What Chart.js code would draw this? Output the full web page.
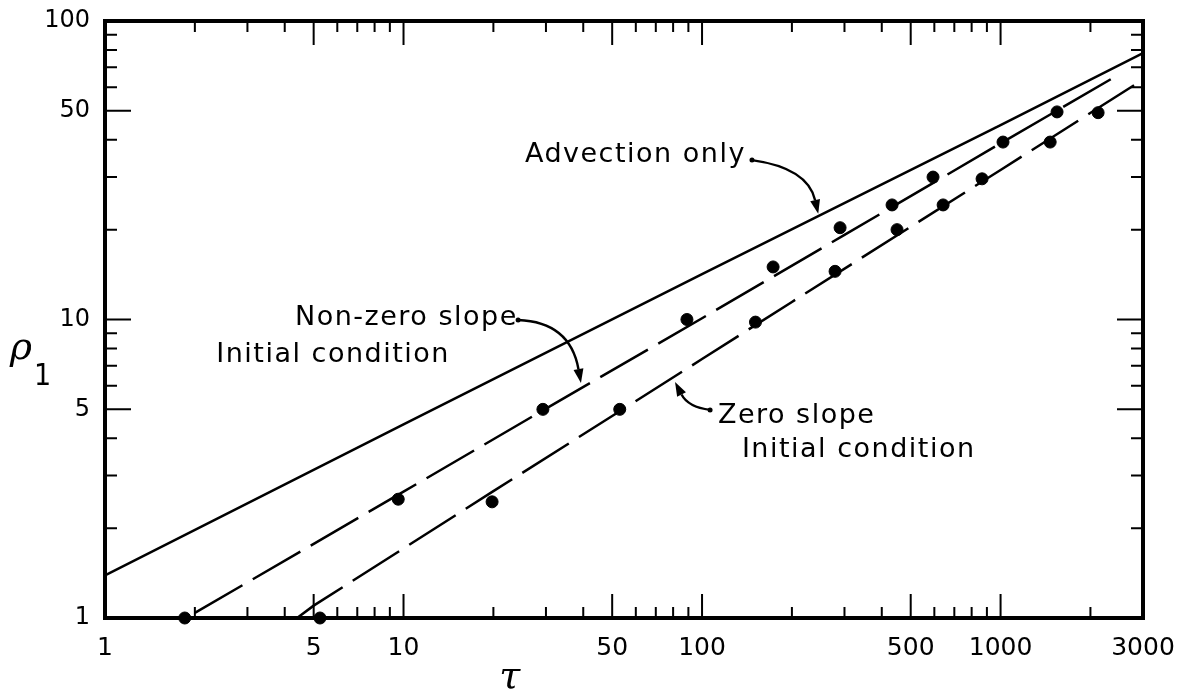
<!DOCTYPE html>
<html>
<head>
<meta charset="utf-8">
<script src="https://cdn.jsdelivr.net/npm/chart.js@4/dist/chart.umd.min.js"></script>
<style>
  html, body { margin: 0; padding: 0; background: #fff; }
</style>
</head>
<body>
<canvas id="chart" width="1188" height="696"></canvas>
<script>
// axis tick labels
var tauTicks = [1, 5, 10, 50, 100, 500, 1000, 3000];
var rhoTicks = [1, 5, 10, 50, 100];

// "Advection only" curve (solid)
var advTau = [1, 10, 100, 1000, 3000];
var advRho = [1.39, 4.45, 14.2, 44.8, 78];

// non-zero slope initial condition: dashed curve + computed points
var nzLineTau = [2.0, 10, 30, 100, 300, 1000, 2500];
var nzLineRho = [1.04, 2.65, 5.03, 10.1, 19.2, 38.9, 66.3];
var nzDotTau = [1.85, 9.6, 29.3, 89, 173, 290, 433, 594, 1019, 1546];
var nzDotRho = [1, 2.5, 5, 10, 15, 20.3, 24.2, 30, 39.3, 49.6];

// zero slope initial condition: dashed curve + computed points
var zLineTau = [4.4, 5, 10, 20, 50, 100, 200, 500, 1000, 2800];
var zLineRho = [1.0, 1.1, 1.71, 2.66, 4.75, 7.37, 11.45, 20.45, 31.7, 60.9];
var zDotTau = [5.25, 19.8, 53, 151, 279, 450, 642, 867, 1466, 2122];
var zDotRho = [1, 2.45, 5, 9.8, 14.5, 20, 24.2, 29.6, 39.3, 49.3];

function pts(xs, ys) {
    return xs.map(function (x, i) { return { x: x, y: ys[i] }; });
}

// labels on the plot, anchored in data units (tau, rho)
var notes = [
    { text: 'Advection only', tau: 25.5, rho: 33.7, align: 'left' },
    { text: 'Non-zero slope', tau: 4.33, rho: 9.58, align: 'left' },
    { text: 'Initial condition', tau: 14.3, rho: 7.2, align: 'right' },
    { text: 'Zero slope', tau: 113, rho: 4.5, align: 'left' },
    { text: 'Initial condition', tau: 136, rho: 3.46, align: 'left' }
];
var arrows = [
    { from: [147, 34.2], via: [226, 32.2], to: [245, 22.6] },
    { from: [24.2, 9.96], via: [36.1, 9.81], to: [39.3, 6.13] },
    { from: [106.4, 4.98], via: [89.8, 5.09], to: [81.2, 6.17] }
];

function decadeSteps(max) {
    var out = [];
    for (var d = 1; d <= max; d *= 10) {
        for (var k = 1; k < 10; k++) {
            if (k * d <= max) out.push(k * d);
        }
    }
    return out;
}

var framePlugin = {
    id: 'frame',
    beforeDatasetsDraw: function (chart) {
        var c = chart.ctx, a = chart.chartArea;
        var sx = chart.scales.x, sy = chart.scales.y;
        c.save();
        c.strokeStyle = '#000';
        c.lineCap = 'butt';
        c.lineWidth = 2;
        decadeSteps(3000).forEach(function (v) {
            var len = tauTicks.indexOf(v) >= 0 ? 24 : 11;
            var x = sx.getPixelForValue(v);
            c.beginPath();
            c.moveTo(x, a.bottom); c.lineTo(x, a.bottom - len);
            c.moveTo(x, a.top); c.lineTo(x, a.top + len);
            c.stroke();
        });
        decadeSteps(100).forEach(function (v) {
            var len = rhoTicks.indexOf(v) >= 0 ? 26 : 12;
            var y = sy.getPixelForValue(v);
            c.beginPath();
            c.moveTo(a.left, y); c.lineTo(a.left + len, y);
            c.moveTo(a.right, y); c.lineTo(a.right - len, y);
            c.stroke();
        });
        c.lineWidth = 4;
        c.strokeRect(a.left, a.top, a.right - a.left, a.bottom - a.top);
        c.restore();
    },
    afterDraw: function (chart) {
        var c = chart.ctx;
        var sx = chart.scales.x, sy = chart.scales.y;
        function P(t, r) { return [sx.getPixelForValue(t), sy.getPixelForValue(r)]; }
        c.save();
        c.fillStyle = '#000';
        c.strokeStyle = '#000';
        c.textBaseline = 'alphabetic';
        c.font = '27px "DejaVu Sans"';
        c.letterSpacing = '1.5px';
        notes.forEach(function (n) {
            var p = P(n.tau, n.rho);
            c.textAlign = n.align;
            c.fillText(n.text, p[0], p[1]);
        });
        c.letterSpacing = '0px';

        c.lineWidth = 2.4;
        arrows.forEach(function (ar) {
            var p0 = P(ar.from[0], ar.from[1]);
            var p1 = P(ar.via[0], ar.via[1]);
            var p2 = P(ar.to[0], ar.to[1]);
            var ang = Math.atan2(p2[1] - p1[1], p2[0] - p1[0]);
            var hl = 14, hw = 5;
            var bx = p2[0] - hl * Math.cos(ang), by = p2[1] - hl * Math.sin(ang);
            c.beginPath();
            c.moveTo(p0[0], p0[1]);
            c.quadraticCurveTo(p1[0], p1[1], bx, by);
            c.stroke();
            c.beginPath();
            c.moveTo(p2[0], p2[1]);
            c.lineTo(bx + hw * Math.sin(ang), by - hw * Math.cos(ang));
            c.lineTo(bx - hw * Math.sin(ang), by + hw * Math.cos(ang));
            c.closePath();
            c.fill();
            c.beginPath();
            c.arc(p0[0], p0[1], 2.5, 0, Math.PI * 2);
            c.fill();
        });

        // axis titles
        var t = P(22.7, 0.583);
        c.textAlign = 'center';
        c.font = 'italic 38px "DejaVu Serif"';
        c.fillText('\u03C4', t[0], t[1]);
        var r = P(0.48, 7.37);
        c.textAlign = 'left';
        c.font = 'italic 38px "DejaVu Serif"';
        c.fillText('\u03C1', r[0], r[1]);
        var s = P(0.578, 6.03);
        c.font = '30px "DejaVu Sans Condensed", "DejaVu Sans"';
        c.fillText('1', s[0], s[1]);
        c.restore();
    }
};

var tickFont = { family: 'DejaVu Sans', size: 25 };

new Chart(document.getElementById('chart'), {
    type: 'scatter',
    data: {
        datasets: [
            {
                label: 'Advection only',
                data: pts(advTau, advRho),
                showLine: true,
                borderColor: '#000',
                borderWidth: 2.5,
                pointRadius: 0
            },
            {
                label: 'Non-zero slope',
                data: pts(nzLineTau, nzLineRho),
                showLine: true,
                borderColor: '#000',
                borderWidth: 2.5,
                borderDash: [55, 12],
                pointRadius: 0
            },
            {
                label: 'Zero slope',
                data: pts(zLineTau, zLineRho),
                showLine: true,
                borderColor: '#000',
                borderWidth: 2.5,
                borderDash: [55, 12],
                pointRadius: 0
            },
            {
                label: 'Non-zero slope points',
                data: pts(nzDotTau, nzDotRho),
                pointRadius: 6,
                pointBackgroundColor: '#000',
                pointBorderColor: '#000',
                clip: false
            },
            {
                label: 'Zero slope points',
                data: pts(zDotTau, zDotRho),
                pointRadius: 6,
                pointBackgroundColor: '#000',
                pointBorderColor: '#000',
                clip: false
            }
        ]
    },
    options: {
        responsive: false,
        animation: false,
        devicePixelRatio: 1,
        layout: { padding: { top: 21, right: 45, bottom: 0, left: 0 } },
        plugins: {
            legend: { display: false },
            tooltip: { enabled: false }
        },
        scales: {
            x: {
                type: 'logarithmic',
                position: 'bottom',
                min: 1,
                max: 3000,
                grid: { display: false, drawTicks: false },
                border: { display: false },
                ticks: {
                    autoSkip: false,
                    maxRotation: 0,
                    padding: 15,
                    color: '#000',
                    font: tickFont,
                    callback: function (v) { return String(v); }
                },
                afterBuildTicks: function (s) {
                    s.ticks = tauTicks.map(function (v) { return { value: v }; });
                },
                afterFit: function (s) {
                    s.height = 78;
                    s.paddingLeft = 0;
                    s.paddingRight = 0;
                }
            },
            y: {
                type: 'logarithmic',
                position: 'left',
                min: 1,
                max: 100,
                grid: { display: false, drawTicks: false },
                border: { display: false },
                ticks: {
                    autoSkip: false,
                    padding: 15,
                    color: '#000',
                    font: { family: 'DejaVu Sans', size: 24 },
                    callback: function (v) { return String(v); }
                },
                afterBuildTicks: function (s) {
                    s.ticks = rhoTicks.map(function (v) { return { value: v }; });
                },
                afterFit: function (s) {
                    s.width = 105;
                    s.paddingTop = 0;
                    s.paddingBottom = 0;
                }
            }
        }
    },
    plugins: [framePlugin]
});
</script>
</body>
</html>
